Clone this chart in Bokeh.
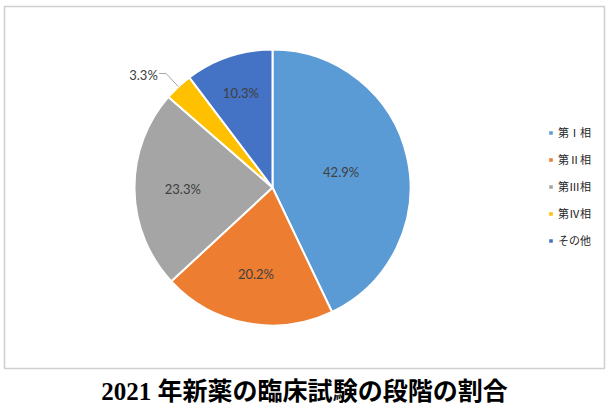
import numpy as np
from bokeh.plotting import figure
from bokeh.models import ColumnDataSource, Range1d, Legend, LegendItem
from bokeh.core.properties import value
from bokeh.embed import file_html
from bokeh.resources import INLINE

# ---- data ----
categories = ["第Ⅰ相", "第Ⅱ相", "第Ⅲ相", "第Ⅳ相", "その他"]
shares = [42.9, 20.2, 23.3, 3.3, 10.3]
colors = ["#5B9BD5", "#ED7D31", "#A5A5A5", "#FFC000", "#4472C4"]
title_text = "2021 年新薬の臨床試験の段階の割合"

# label placement style (fraction of radius), None = outside with leader
label_r = [0.51, 0.64, 0.65, None, 0.72]

vals = np.array(shares, dtype=float)
frac = vals / vals.sum()
cum = np.concatenate([[0.0], np.cumsum(frac)])
start = np.pi / 2 - 2 * np.pi * cum[:-1]
end = np.pi / 2 - 2 * np.pi * cum[1:]
mid = (start + end) / 2

src = ColumnDataSource(dict(start=start, end=end, color=colors, cat=categories))

p = figure(width=606, height=412, output_backend="svg", toolbar_location=None,
           x_range=Range1d(-1.942, 2.4058), y_range=Range1d(-1.3116, 1.3116),
           min_border_left=4, min_border_right=2, min_border_top=6, min_border_bottom=44)
p.axis.visible = False
p.grid.visible = False
p.outline_line_color = "#cfcfcf"
p.outline_line_width = 1.5
p.background_fill_color = "white"
p.border_fill_color = "white"

r = p.wedge(x=0, y=0, radius=1, start_angle="start", end_angle="end", direction="clock",
            fill_color="color", line_color="white", line_width=2, source=src)

# inside labels
lab_txt = [f"{v:.1f}%" for v in shares]
ix, iy, it = [], [], []
for i, f in enumerate(label_r):
    if f is not None:
        ix.append(f * np.cos(mid[i])); iy.append(f * np.sin(mid[i])); it.append(lab_txt[i])
p.text(x=ix, y=iy, text=it, text_align="center", text_baseline="middle",
       text_font=value("Lato"), text_font_size="13px", text_color="#404040")

# outside labels with leader lines
for i, f in enumerate(label_r):
    if f is None:
        ex, ey = np.cos(mid[i]), np.sin(mid[i])
        bx, by = 1.13 * ex, 1.13 * ey
        hx = bx - 0.05
        p.line(x=[ex, bx, hx], y=[ey, by, by], line_color="#a6a6a6", line_width=1)
        p.text(x=[hx - 0.01], y=[by - 0.01], text=[lab_txt[i]], text_align="right",
               text_baseline="middle", text_font=value("Lato"), text_font_size="13px",
               text_color="#404040")

legend = Legend(items=[LegendItem(label=c, renderers=[r], index=i) for i, c in enumerate(categories)],
                location=(543, 118), orientation="vertical", padding=0, margin=0,
                border_line_color=None, background_fill_alpha=0,
                glyph_width=7, glyph_height=7, label_height=20, spacing=7, label_standoff=4,
                label_text_font="Noto Sans CJK JP", label_text_font_size="11px",
                label_text_color="#262626")
p.add_layout(legend, "center")

p.title.text = title_text
p.title_location = "below"
p.title.align = "center"
p.title.standoff = 14
p.title.text_font = "'Liberation Serif', 'Noto Sans CJK JP'"
p.title.text_font_style = "bold"
p.title.text_font_size = "25px"
p.title.text_color = "#000000"

open("out.html", "w").write(file_html(p, INLINE))
